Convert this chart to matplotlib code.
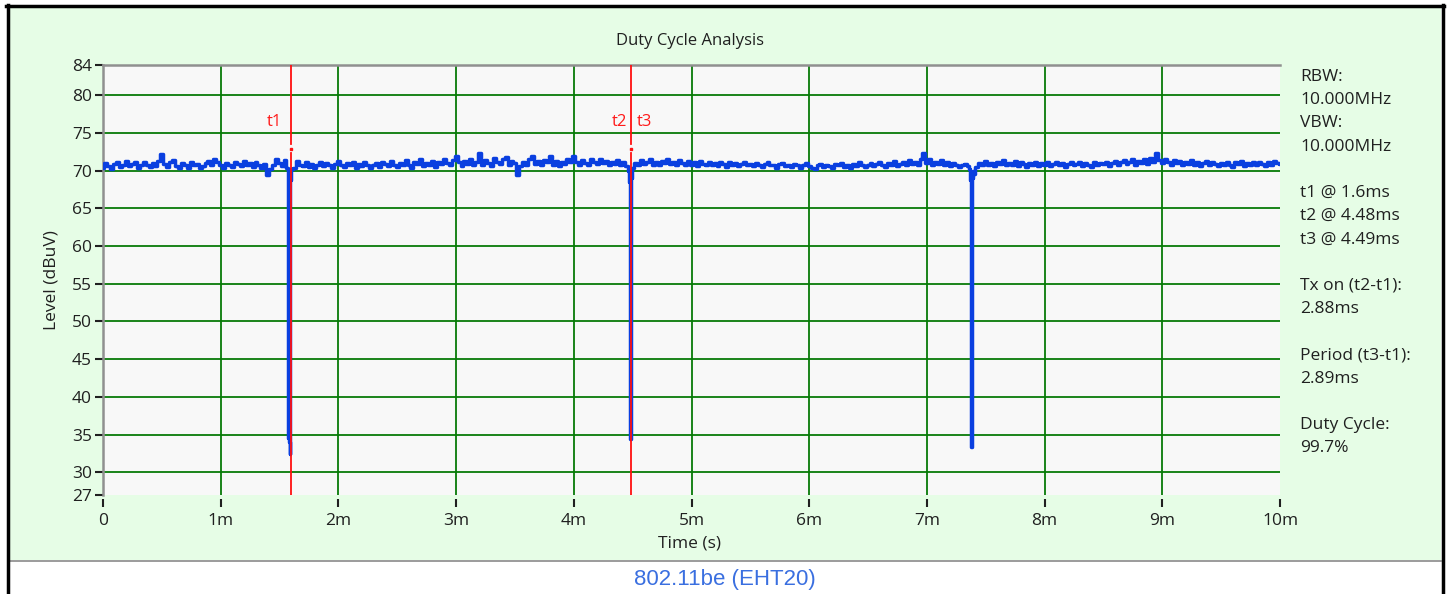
import numpy as np
import matplotlib
matplotlib.use("Agg")
import matplotlib.pyplot as plt
from matplotlib.patches import Rectangle
from matplotlib.lines import Line2D

plt.rcParams['font.family'] = ['Open Sans', 'DejaVu Sans']

# trace, one value every 0.025 ms (0 .. 10 ms), 20 per row
level = [
    70.4, 71.0, 70.6, 70.2, 70.9, 71.2, 70.5, 70.8, 71.3, 70.6, 70.9, 71.1, 70.4, 70.7, 71.2, 70.8, 70.5, 71.0, 70.6, 71.3,
    72.2, 70.9, 70.5, 71.1, 71.4, 70.6, 70.3, 71.0, 70.8, 70.4, 71.2, 70.7, 70.9, 70.3, 70.6, 71.0, 71.3, 70.7, 71.6, 71.1,
    70.7, 70.4, 71.0, 70.8, 70.5, 71.2, 70.9, 70.6, 71.3, 70.8, 71.0, 70.5, 71.1, 70.7, 70.4, 70.9, 69.4, 70.2, 70.8, 71.5,
    71.0, 70.6, 71.4, 70.9, 70.2, 70.4, 71.3, 70.8, 70.6, 71.1, 70.5, 70.9, 70.3, 70.8, 71.2, 70.6, 71.0, 70.7, 70.4, 70.9,
    71.3, 70.8, 70.5, 71.0, 70.7, 71.2, 70.4, 70.9, 70.6, 71.1, 70.8, 70.3, 70.7, 71.0, 70.5, 71.2, 70.9, 70.6, 71.3, 70.8,
    70.5, 71.0, 70.7, 71.4, 70.8, 70.4, 71.1, 70.9, 71.5, 70.6, 71.0, 70.8, 71.3, 70.5, 71.2, 70.9, 71.6, 71.0, 70.7, 71.4,
    72.0, 71.1, 70.6, 71.3, 70.9, 71.5, 70.7, 71.2, 72.3, 70.8, 71.4, 71.0, 70.6, 71.7, 71.2, 70.9, 71.5, 71.8, 70.8, 71.3,
    71.0, 69.4, 70.6, 71.2, 70.8, 71.5, 71.9, 70.9, 71.3, 70.7, 71.4, 71.1, 71.9, 70.8, 71.3, 70.6, 71.2, 70.9, 71.6, 71.1,
    72.0, 71.2, 70.7, 71.4, 71.0, 70.8, 71.5, 71.2, 70.9, 71.6, 71.0, 71.3, 70.7, 71.2, 70.9, 71.4, 70.8, 71.1, 70.6, 70.9,
    70.3, 71.0, 70.8, 71.4, 70.9, 71.2, 71.6, 70.8, 71.1, 70.7, 71.3, 71.0, 71.6, 70.9, 71.2, 70.7, 71.4, 71.0, 70.8, 71.3,
    70.8, 71.1, 70.6, 71.3, 70.9, 70.7, 71.2, 70.8, 71.0, 70.6, 71.1, 70.9, 70.5, 71.2, 70.8, 71.0, 70.6, 70.9, 71.1, 70.7,
    70.9, 70.6, 71.0, 70.7, 70.5, 70.9, 71.1, 70.7, 70.8, 70.4, 70.9, 71.0, 70.6, 70.8, 70.5, 70.9, 70.7, 70.4, 70.8, 71.0,
    70.6, 70.4, 70.2, 70.7, 70.9, 70.5, 70.8, 70.6, 70.3, 70.9, 70.7, 71.0, 70.5, 70.8, 70.4, 70.9, 70.6, 71.1, 70.7, 70.5,
    70.8, 71.0, 70.6, 70.9, 71.2, 70.7, 70.5, 71.0, 70.8, 71.3, 70.6, 70.9, 71.1, 70.7, 71.4, 70.9, 71.2, 70.8, 71.5, 72.3,
    71.0, 71.6, 70.8, 71.2, 70.9, 71.4, 70.7, 71.1, 70.6, 71.0, 70.8, 70.5, 70.7, 70.9, 70.6, 70.3, 69.6, 70.5, 71.0, 70.7,
    71.3, 70.8, 71.0, 70.6, 71.2, 70.9, 71.4, 70.7, 71.0, 70.8, 71.3, 70.6, 71.1, 70.9, 70.5, 71.0, 70.8, 71.2, 70.6, 71.0,
    70.8, 71.1, 70.6, 70.9, 71.2, 70.7, 71.0, 70.5, 70.9, 71.1, 70.7, 70.9, 71.2, 70.6, 71.0, 70.8, 70.5, 71.1, 70.7, 71.0,
    70.9, 71.2, 70.6, 71.0, 71.3, 70.8, 71.1, 71.4, 70.9, 71.2, 71.6, 70.8, 71.3, 71.0, 71.5, 70.9, 71.7, 71.2, 72.3, 71.4,
    71.0, 71.6, 71.2, 70.8, 71.4, 71.0, 71.3, 70.7, 71.1, 70.9, 71.4, 70.8, 71.2, 70.6, 71.0, 71.3, 70.7, 71.1, 70.9, 70.6,
    71.0, 70.7, 71.2, 70.8, 70.5, 71.1, 70.9, 71.3, 70.6, 71.0, 70.8, 71.2, 70.7, 71.1, 70.9, 70.6, 71.2, 70.8, 71.3, 71.0,
    70.9,
]
time_ms = np.linspace(0, 10, len(level))

# the three drop-outs (time in ms, level in dBuV)
dip_t = [1.565, 1.572, 1.575, 1.582, 1.590, 1.595, 1.605,
         4.465, 4.472, 4.475, 4.482, 4.486, 4.495,
         7.365, 7.370, 7.372, 7.380, 7.383, 7.390, 7.395]
dip_v = [70.3, 68.5, 34.5, 34.0, 32.5, 68.8, 70.2,
         70.0, 68.5, 34.6, 34.4, 69.0, 70.3,
         70.2, 68.8, 33.3, 33.4, 68.5, 69.0, 70.0]
dip_windows = [(1.565, 1.605), (4.465, 4.495), (7.365, 7.395)]

markers = [1.6, 4.485]
marker_names = [("t1", 1.46), ("t2", 4.39), ("t3", 4.6)]

ytick_vals = [84, 80, 75, 70, 65, 60, 55, 50, 45, 40, 35, 30, 27]
ygrid = [80, 75, 70, 65, 60, 55, 50, 45, 40, 35, 30]
xtick_vals = [0, 1, 2, 3, 4, 5, 6, 7, 8, 9, 10]
xtick_labels = ["0", "1m", "2m", "3m", "4m", "5m", "6m", "7m", "8m", "9m", "10m"]

info_lines = ["RBW:", "10.000MHz", "VBW:", "10.000MHz", "",
              "t1 @ 1.6ms", "t2 @ 4.48ms", "t3 @ 4.49ms", "",
              "Tx on (t2-t1):", "2.88ms", "",
              "Period (t3-t1):", "2.89ms", "",
              "Duty Cycle:", "99.7%"]

# drop the regular samples that fall inside a dip, then merge in time order
keep = np.ones(len(time_ms), dtype=bool)
for a, b in dip_windows:
    keep &= ~((time_ms >= a) & (time_ms <= b))
t_all = np.concatenate([time_ms[keep], dip_t])
v_all = np.concatenate([np.array(level)[keep], dip_v])
order = np.argsort(t_all, kind="stable")
t_all, v_all = t_all[order], v_all[order]

W, H = 1450, 594
fig = plt.figure(figsize=(W / 100, H / 100), dpi=100)
fig.patch.set_facecolor("white")

# green panel and frame
fig.add_artist(Rectangle((9 / W, 1 - 560 / H), 1432 / W, 552 / H, transform=fig.transFigure,
                         facecolor="#e6fde6", edgecolor="none", zorder=-5))
fig.add_artist(Line2D([9 / W, 1441 / W], [1 - 560.5 / H] * 2, color="#8a8a8a", lw=1.2))
fig.add_artist(Line2D([6 / W, 1444 / W], [1 - 6 / H] * 2, color="black", lw=2.5))
fig.add_artist(Line2D([7.5 / W] * 2, [0, 1 - 5 / H], color="black", lw=2.5))
fig.add_artist(Line2D([1442.5 / W] * 2, [0, 1 - 5 / H], color="black", lw=2.5))

ax = fig.add_axes([103 / W, 1 - 495 / H, (1280 - 103) / W, (495 - 65) / H])
ax.set_facecolor("#f8f8f8")

for g in ygrid:
    ax.axhline(g, color="#087a08", lw=1.3, zorder=1)
for g in xtick_vals[1:-1]:
    ax.axvline(g, color="#087a08", lw=1.3, zorder=1)

ax.plot(t_all, v_all, color="#0a3fe0", lw=2.5, drawstyle="steps-mid", zorder=3)

for m in markers:
    ax.plot([m, m], [84, 73.5], color="#ff1010", lw=1.3, zorder=4)
    ax.plot([m, m], [72.3, 27], color="#ff1010", lw=1.3, zorder=4)
    ax.plot([m], [72.8], marker="s", ms=1.5, color="#ff1010", zorder=4)
for name, xpos in marker_names:
    ax.text(xpos, 76.4, name, color="#ff1a1a", fontsize=12, ha="center", va="center")

ax.set_xlim(0, 10)
ax.set_ylim(27, 84)
ax.set_yticks(ytick_vals)
ax.set_xticks(xtick_vals)
ax.set_xticklabels(xtick_labels)
ax.tick_params(axis="y", length=6, width=1.5, color="#202020", labelsize=12.5, pad=2, labelcolor="#202020")
ax.tick_params(axis="x", length=6, width=1.5, color="#202020", labelsize=12.5, pad=4, labelcolor="#202020")

ax.spines["right"].set_visible(False)
ax.spines["bottom"].set_position(("outward", 3))
ax.spines["bottom"].set_visible(False)
ax.spines["left"].set_color("#909090")
ax.spines["left"].set_linewidth(1.8)
ax.spines["top"].set_color("#909090")
ax.spines["top"].set_linewidth(1.8)

fig.text(690 / W, 1 - 41 / H, "Duty Cycle Analysis", ha="center", va="center", fontsize=12, color="#202020")
fig.text(690 / W, 1 - 543 / H, "Time (s)", ha="center", va="center", fontsize=12.5, color="#202020")
fig.text(52 / W, 1 - 280 / H, "Level (dBuV)", ha="center", va="center", rotation=90, fontsize=12.5, color="#202020")

for i, line in enumerate(info_lines):
    fig.text(1300 / W, 1 - (77 + i * 23.2) / H, line, ha="left", va="center", fontsize=12.5, color="#202020")

fig.text(725 / W, 1 - 579 / H, "802.11be (EHT20)", ha="center", va="center", fontsize=16,
         color="#3a6fe0", family="Liberation Sans")

fig.savefig("out.png", dpi=100)
